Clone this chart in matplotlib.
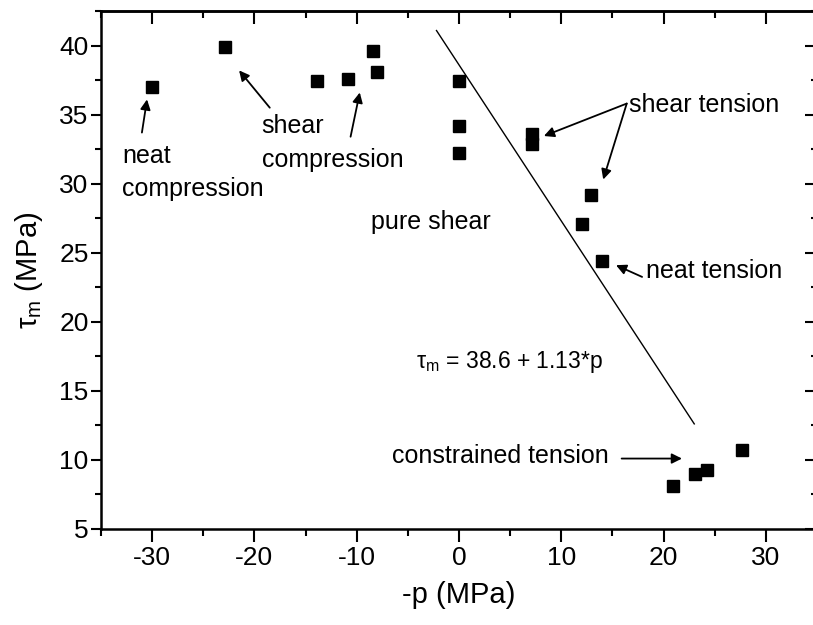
import matplotlib
matplotlib.use("Agg")
import matplotlib.pyplot as plt
import numpy as np

plt.rcParams['font.family'] = ['Liberation Sans', 'DejaVu Sans']
plt.rcParams['mathtext.fontset'] = 'custom'
plt.rcParams['mathtext.rm'] = 'Liberation Sans'
plt.rcParams['mathtext.it'] = 'Liberation Sans'
plt.rcParams['mathtext.sf'] = 'Liberation Sans'
plt.rcParams['axes.unicode_minus'] = False

# data: -p (MPa) and tau_m (MPa)
neg_p = [-30.0, -22.9, -13.9, -10.9, -8.4, -8.0, 0.0, 0.0, 0.0,
         7.1, 7.1, 12.9, 12.0, 14.0, 20.9, 23.1, 24.2, 27.7]
tau_m = [37.0, 39.9, 37.4, 37.6, 39.6, 38.1, 37.4, 34.2, 32.2,
         33.6, 32.9, 29.2, 27.1, 24.4, 8.1, 9.0, 9.3, 10.7]

# fit line tau_m = 38.6 + 1.13*p  (x axis is -p)
fit_a, fit_b = 38.6, 1.13
fit_x = [-2.2, 23.0]

xticks = [-30, -20, -10, 0, 10, 20, 30]
yticks = [5, 10, 15, 20, 25, 30, 35, 40]

fig = plt.figure(figsize=(8.13, 6.25), dpi=100)
ax = fig.add_axes([101/813, (625-529)/625, (817-101)/813, (529-11)/625])

fx = np.array(fit_x)
ax.plot(fx, fit_a - fit_b*fx, color='black', lw=1.0)
ax.plot(neg_p, tau_m, 's', color='black', ms=8, mec='black')

ax.set_xlim(-35, 35)
ax.set_ylim(5, 42.5)
ax.set_xticks(xticks)
ax.set_yticks(yticks)
ax.set_xticks(np.arange(-35, 36, 5), minor=True)
ax.set_yticks(np.arange(5, 43, 2.5), minor=True)

for s in ax.spines.values():
    s.set_linewidth(1.8)

ax.tick_params(axis='both', which='both', labelsize=19, width=1.5)
ax.tick_params(axis='x', which='major', direction='out', length=9, pad=3, top=False)
ax.tick_params(axis='x', which='minor', direction='out', length=5, top=False)
ax.tick_params(axis='y', which='major', direction='out', length=7, pad=2, right=False)
ax.tick_params(axis='y', which='minor', direction='out', length=4, right=False)

# inward ticks on top / right
axt = ax.secondary_xaxis('top')
axt.set_xticks(xticks)
axt.set_xticks(np.arange(-35, 36, 5), minor=True)
axt.tick_params(which='major', direction='in', length=9, width=1.5, labeltop=False)
axt.tick_params(which='minor', direction='in', length=5, width=1.5)
axt.spines['top'].set_linewidth(1.8)
axr = ax.secondary_yaxis('right')
axr.set_yticks(yticks)
axr.set_yticks(np.arange(5, 43, 2.5), minor=True)
axr.tick_params(which='major', direction='in', length=9, width=1.5, labelright=False)
axr.tick_params(which='minor', direction='in', length=4, width=1.5)

ax.set_xlabel('-p (MPa)', fontsize=21, labelpad=8)
ax.set_ylabel(r'$\mathrm{\tau_m}$ (MPa)', fontsize=21, labelpad=10)

fs = 18
arr = dict(arrowstyle='-|>', color='black', lw=1.3, mutation_scale=15, shrinkA=0, shrinkB=0)

ax.text(-32.9, 31.5, 'neat', fontsize=fs, va='baseline', ha='left')
ax.text(-32.9, 29.1, 'compression', fontsize=fs, va='baseline', ha='left')
ax.annotate('', xy=(-30.5, 36.1), xytext=(-31.0, 33.7), arrowprops=arr)

ax.text(-19.3, 33.7, 'shear', fontsize=fs, va='baseline', ha='left')
ax.text(-19.3, 31.2, 'compression', fontsize=fs, va='baseline', ha='left')
ax.annotate('', xy=(-21.5, 38.2), xytext=(-18.5, 35.5), arrowprops=arr)
ax.annotate('', xy=(-9.7, 36.6), xytext=(-10.6, 33.4), arrowprops=arr)

ax.text(-8.6, 26.7, 'pure shear', fontsize=fs, va='baseline', ha='left')

ax.text(16.6, 35.2, 'shear tension', fontsize=fs, va='baseline', ha='left')
ax.annotate('', xy=(8.3, 33.45), xytext=(16.4, 35.8), arrowprops=arr)
ax.annotate('', xy=(14.1, 30.3), xytext=(16.4, 35.8), arrowprops=arr)

ax.text(18.3, 23.2, 'neat tension', fontsize=fs, va='baseline', ha='left')
ax.annotate('', xy=(15.35, 24.1), xytext=(17.9, 23.25), arrowprops=arr)

ax.text(-6.55, 9.8, 'constrained tension', fontsize=fs, va='baseline', ha='left')
ax.annotate('', xy=(21.8, 10.1), xytext=(15.9, 10.1), arrowprops=arr)

ax.text(-4.2, 16.65, r'$\mathrm{\tau_m}$ = 38.6 + 1.13*p', fontsize=16.5, va='baseline', ha='left')

fig.savefig('out.png', dpi=100)
